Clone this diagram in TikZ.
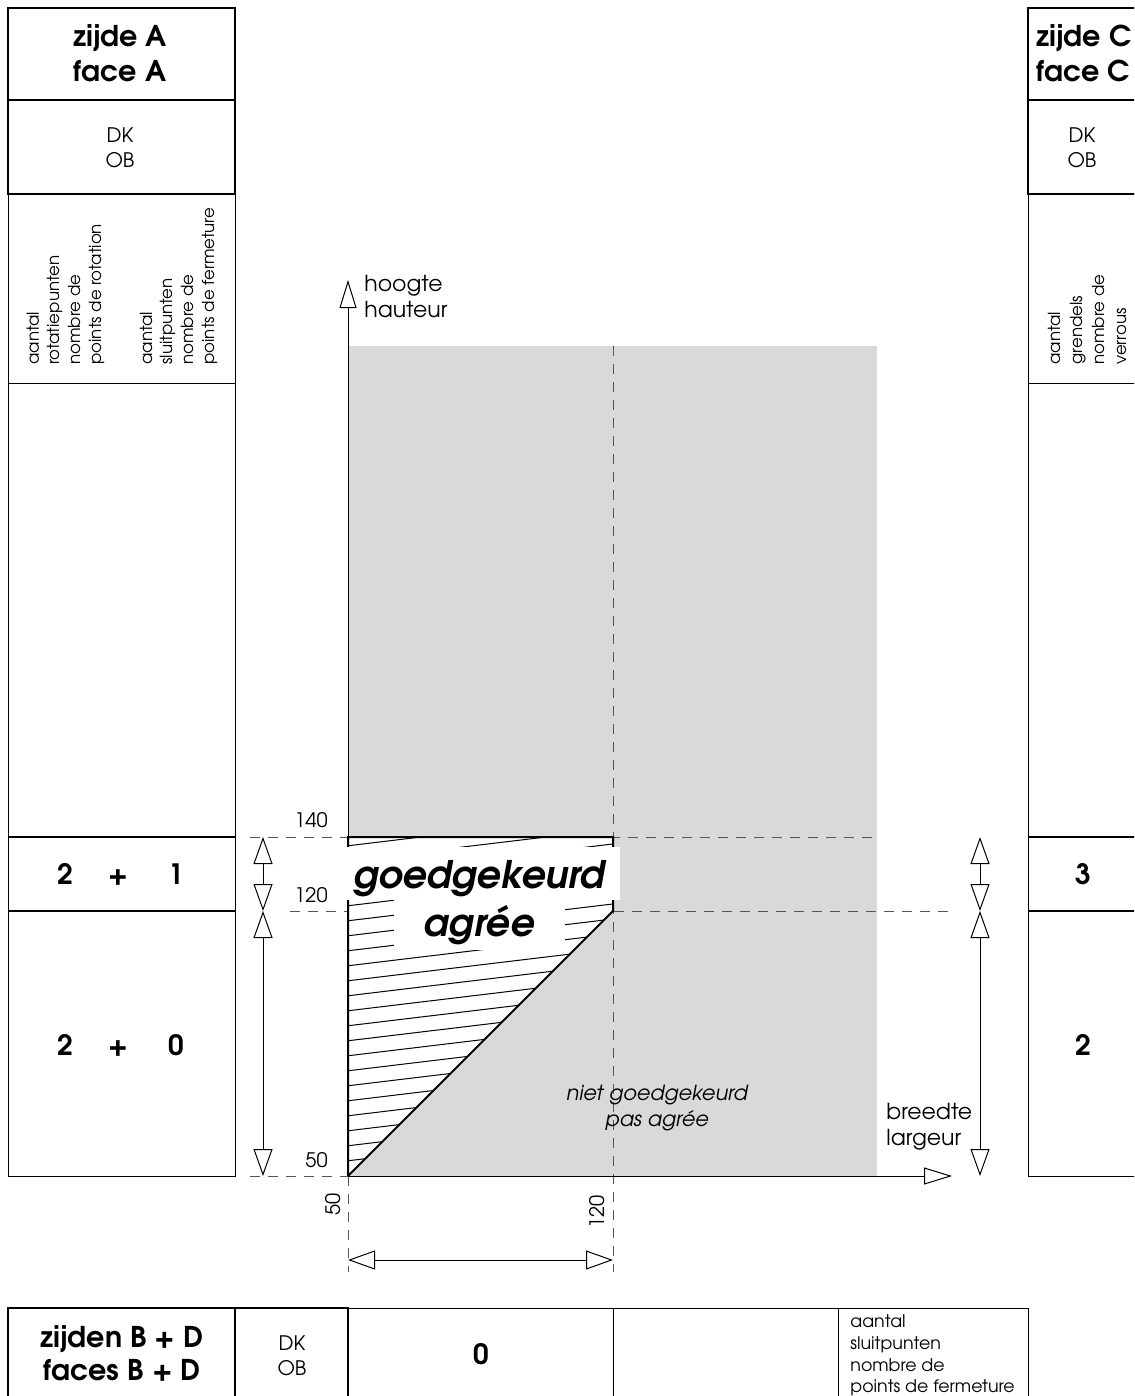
\documentclass[tikz,border=0pt]{standalone}
\usepackage{fontspec}
\setmainfont{texgyreadventor}[Extension=.otf, UprightFont=*-regular, BoldFont=*-bold, ItalicFont=*-italic, BoldItalicFont=*-bolditalic]
\usetikzlibrary{arrows.meta}
\definecolor{greyfill}{RGB}{217,217,217}
\definecolor{dashc}{RGB}{85,85,85}
\newcommand\fTitle{\fontsize{14.3}{16}\bfseries\selectfont}
\newcommand\fDK{\fontsize{10}{12}\selectfont}
\newcommand\fSmall{\fontsize{8.3}{9}\selectfont}
\newcommand\fSmallB{\fontsize{8.7}{10}\selectfont}
\newcommand\fNum{\fontsize{14}{16}\bfseries\selectfont}
\newcommand\fBig{\fontsize{19}{22}\bfseries\itshape\selectfont}
\newcommand\fLab{\fontsize{11}{13}\selectfont}
\newcommand\fTick{\fontsize{10}{12}\selectfont}
\newcommand\fLabI{\fontsize{10.4}{12}\itshape\selectfont}
\begin{document}
\begin{tikzpicture}[x=0.5pt,y=-0.5pt,
  thickl/.style={line width=1pt},
  thinl/.style={line width=0.5pt},
  midl/.style={line width=0.7pt},
  dashl/.style={draw=dashc, line width=0.5pt, dash pattern=on 5pt off 4pt},
  dimline/.style={line width=0.5pt, {Triangle[open,length=13.5pt,width=9.5pt]}-{Triangle[open,length=13.5pt,width=9.5pt]}},
  axisl/.style={line width=0.5pt, -{Triangle[open,length=14pt,width=8.5pt]}},
  lbl/.style={inner sep=0pt, anchor=base},
  lblw/.style={inner sep=0pt, anchor=base west},
  lble/.style={inner sep=0pt, anchor=base east},
  vlbl/.style={inner sep=0pt, anchor=base west, rotate=90}
]
\useasboundingbox (0,0) rectangle (1134,1396);
\clip (0,0) rectangle (1134,1396);
\fill[white] (0,0) rectangle (1134,1396);

% ---------------- left column ----------------
\draw[thinl] (8,194) rectangle (235,1176);
\draw[thinl] (8,383) -- (235,383);
\draw[midl] (8,837) -- (235,837);
\draw[midl] (8,911) -- (235,911);
\draw[thickl] (8,8) rectangle (235,194);
\draw[thickl] (8,100) -- (235,100);

\node[lbl,font=\fTitle] (zA1) at (120,47) {zijde A};
\node[lbl,font=\fTitle] (zA2) at (120,82) {face A};
\node[lbl,font=\fDK] (dkA) at (120,143) {DK};
\node[lbl,font=\fDK] (obA) at (120,168) {OB};
\node[vlbl,font=\fSmall] (ra1) at (39,365) {aantal};
\node[vlbl,font=\fSmall] (ra2) at (59,365) {rotatiepunten};
\node[vlbl,font=\fSmall] (ra3) at (80,365) {nombre de};
\node[vlbl,font=\fSmall] (ra4) at (101,365) {points de rotation};
\node[vlbl,font=\fSmall] (rb1) at (152,365) {aantal};
\node[vlbl,font=\fSmall] (rb2) at (172,365) {sluitpunten};
\node[vlbl,font=\fSmall] (rb3) at (193,365) {nombre de};
\node[vlbl,font=\fSmall] (rb4) at (214,365) {points de fermeture};
\node[lbl,font=\fNum] (n11) at (65,884) {2};
\node[lbl,font=\fNum] (n12) at (118,884) {+};
\node[lbl,font=\fNum] (n13) at (176,884) {1};
\node[lbl,font=\fNum] (n21) at (65,1055) {2};
\node[lbl,font=\fNum] (n22) at (118,1055) {+};
\node[lbl,font=\fNum] (n23) at (176,1055) {0};

% ---------------- right column ----------------
\draw[thinl] (1028,194) rectangle (1145,1176);
\draw[thinl] (1028,383) -- (1145,383);
\draw[midl] (1028,837) -- (1145,837);
\draw[midl] (1028,911) -- (1145,911);
\draw[thickl] (1028,8) rectangle (1145,194);
\draw[thickl] (1028,100) -- (1145,100);

\node[lblw,font=\fTitle] (zC1) at (1036,47) {zijde C};
\node[lblw,font=\fTitle] (zC2) at (1036,82) {face C};
\node[lbl,font=\fDK] (dkC) at (1082,143) {DK};
\node[lbl,font=\fDK] (obC) at (1082,168) {OB};
\node[vlbl,font=\fSmall] (rc1) at (1060,365) {aantal};
\node[vlbl,font=\fSmall] (rc2) at (1082,365) {grendels};
\node[vlbl,font=\fSmall] (rc3) at (1104,365) {nombre de};
\node[vlbl,font=\fSmall] (rc4) at (1126,365) {verrous};
\node[lbl,font=\fNum] (c3) at (1083,884) {3};
\node[lbl,font=\fNum] (c2) at (1083,1055) {2};

% ---------------- chart ----------------
\fill[greyfill] (348,346) rectangle (877,1176);

% dashed guides
\coordinate (g140l) at (250,837);  \coordinate (g140r) at (877,837);
\coordinate (g120l) at (290,911);  \coordinate (g120r) at (955,911);
\coordinate (g50l)  at (250,1176); \coordinate (o)     at (348,1176);
\coordinate (v120t) at (613,346);  \coordinate (v120b) at (613,1272);
\coordinate (v50b)  at (348,1272);
\draw[dashl] (g140l) -- (g140r);
\draw[dashl] (g120l) -- (g120r);
\draw[dashl] (g50l) -- (o);
\draw[dashl] (v120t) -- (v120b);
\draw[dashl] (o) -- (v50b);

% approved region
\coordinate (p1) at (348,837);
\coordinate (p2) at (613,837);
\coordinate (p3) at (613,911);
\fill[white] (p1) -- (p2) -- (p3) -- (o) -- cycle;
\begin{scope}
  \clip (p1) -- (p2) -- (p3) -- (o) -- cycle;
  \foreach \k in {0,...,24} {
    \draw[thinl] (346,1161-15*\k) -- ++(300,-36);
  }
\end{scope}
\draw[thickl] (o) -- (p1) -- (p2) -- (p3) -- (o);

% axes
\coordinate (ytip) at (348,280);
\coordinate (xtip) at (952,1176);
\draw[axisl] (o) -- (ytip);
\draw[axisl] (o) -- (xtip);

% dimension arrows
\coordinate (L140) at (263,837); \coordinate (L120) at (263,911); \coordinate (L50) at (263,1176);
\coordinate (R140) at (980,837); \coordinate (R120) at (980,911); \coordinate (R50) at (980,1176);
\coordinate (B50) at (348,1260); \coordinate (B120) at (613,1260);
\draw[dimline] (L140) -- (L120);
\draw[dimline] (L120) -- (L50);
\draw[dimline] (R140) -- (R120);
\draw[dimline] (R120) -- (R50);
\draw[dimline] (B50) -- (B120);

% white label boxes
\fill[white] (345,847) rectangle (620,900);
\fill[white] (394,899) rectangle (565,950);
\node[lbl,font=\fBig] (ok1) at (479,888) {goedgekeurd};
\node[lbl,font=\fBig] (ok2) at (479,936) {agrée};

\node[lbl,font=\fLabI] (nok1) at (657,1100) {niet goedgekeurd};
\node[lbl,font=\fLabI] (nok2) at (657,1126) {pas agrée};

\node[lblw,font=\fLab] (hy1) at (364,291) {hoogte};
\node[lblw,font=\fLab] (hy2) at (364,317) {hauteur};
\node[lblw,font=\fLab] (bx1) at (886,1119) {breedte};
\node[lblw,font=\fLab] (bx2) at (886,1145) {largeur};

\node[lble,font=\fTick] (t140) at (328,827) {140};
\node[lble,font=\fTick] (t120) at (328,902) {120};
\node[lble,font=\fTick] (t50) at (328,1167) {50};
\node[vlbl,font=\fTick] (tx50) at (340,1216) {50};
\node[vlbl,font=\fTick] (tx120) at (604,1229) {120};

% ---------------- bottom table ----------------
\draw[thinl] (348,1308) -- (1028,1308) -- (1028,1400);
\draw[thinl] (613,1308) -- (613,1400);
\draw[thinl] (838,1308) -- (838,1400);
\draw[thickl] (8,1400) -- (8,1308) -- (348,1308) -- (348,1400);
\draw[thickl] (235,1308) -- (235,1400);

\node[lbl,font=\fTitle] (zB1) at (122,1347) {zijden B + D};
\node[lbl,font=\fTitle] (zB2) at (122,1380) {faces B + D};
\node[lbl,font=\fDK] (dkB) at (292,1350) {DK};
\node[lbl,font=\fDK] (obB) at (292,1375) {OB};
\node[lbl,font=\fNum] (zero) at (481,1364) {0};
\node[lblw,font=\fSmallB] (s1) at (850,1327) {aantal};
\node[lblw,font=\fSmallB] (s2) at (850,1349) {sluitpunten};
\node[lblw,font=\fSmallB] (s3) at (850,1371) {nombre de};
\node[lblw,font=\fSmallB] (s4) at (850,1392) {points de fermeture};
\end{tikzpicture}
\end{document}
